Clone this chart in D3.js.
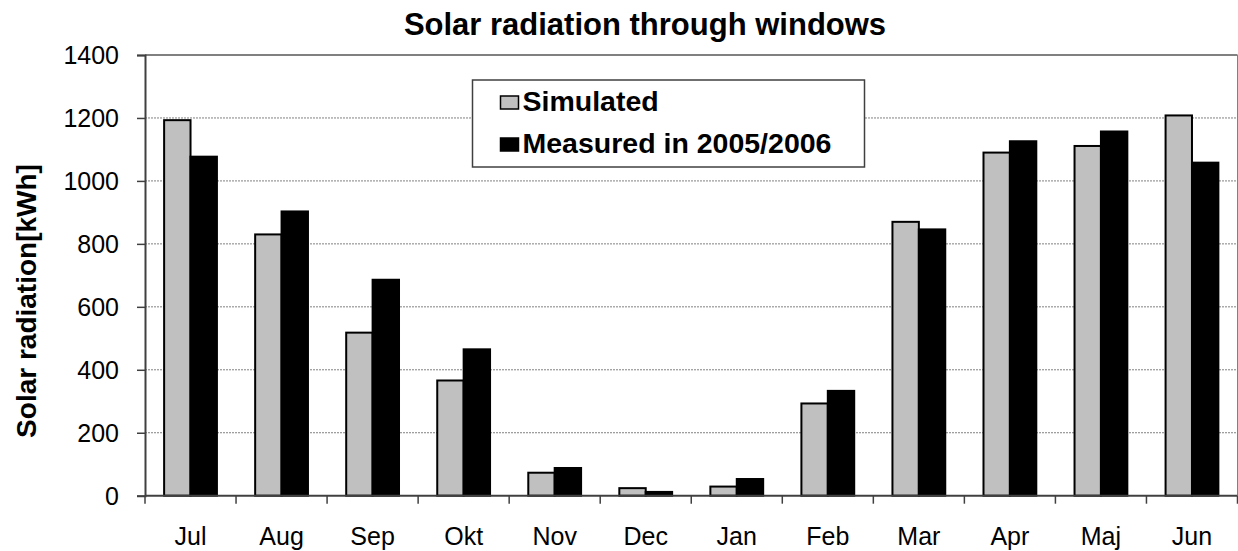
<!DOCTYPE html>
<html>
<head>
<meta charset="utf-8" />
<script src="https://cdn.jsdelivr.net/npm/d3@7"></script>
<title>Solar radiation through windows</title>
<style>
    body { margin: 0; background: #fff; }
    text { font-family: Arial, "Liberation Sans", sans-serif; fill: #000; }
    .grid line { stroke: #808080; stroke-width: 1; stroke-dasharray: 2,1; }
</style>
</head>
<body>
<script>
    var months = ["Jul", "Aug", "Sep", "Okt", "Nov", "Dec", "Jan", "Feb", "Mar", "Apr", "Maj", "Jun"];
    var simulated = [1193, 830, 518, 366, 73, 24, 29, 293, 870, 1090, 1111, 1208];
    var measured = [1077, 903, 686, 465, 88, 12, 53, 333, 846, 1126, 1157, 1058];
    var seriesNames = ["Simulated", "Measured in 2005/2006"];
    var yTicks = [0, 200, 400, 600, 800, 1000, 1200, 1400];

    var svgWidth = 1238,
        svgHeight = 551,
        margin = {top: 55, right: 0.5, bottom: 55, left: 145},
        width = 1237.5 - margin.left,
        height = 495.7 - margin.top;

    var svg = d3.select("body").append("svg")
        .attr("width", svgWidth)
        .attr("height", svgHeight);

    var g = svg.append("g")
        .attr("transform", "translate(" + margin.left + "," + margin.top + ")");

    var x = d3.scaleBand()
        .domain(months)
        .range([0, width])
        .paddingInner(0.42)
        .paddingOuter(0.21);

    var x1 = d3.scaleBand()
        .domain([0, 1])
        .range([0, x.bandwidth()]);

    var y = d3.scaleLinear()
        .domain([0, 1400])
        .range([height, 0]);

    // dotted gridlines
    g.append("g").attr("class", "grid")
        .selectAll("line")
        .data(yTicks.filter(function(d) { return d > 0 && d < 1400; }))
        .enter().append("line")
        .attr("x1", 0).attr("x2", width)
        .attr("y1", function(d) { return y(d); })
        .attr("y2", function(d) { return y(d); });

    // plot border top / right
    g.append("line").attr("x1", 0).attr("x2", width).attr("y1", y(1400)).attr("y2", y(1400))
        .attr("stroke", "#808080").attr("stroke-width", 2);
    g.append("line").attr("x1", width).attr("x2", width).attr("y1", y(1400)).attr("y2", y(0))
        .attr("stroke", "#808080").attr("stroke-width", 1);

    var groups = g.selectAll(".month")
        .data(months)
        .enter().append("g")
        .attr("transform", function(d) { return "translate(" + x(d) + ",0)"; });

    groups.append("rect")
        .attr("x", x1(0))
        .attr("width", x1.bandwidth())
        .attr("y", function(d, i) { return y(simulated[i]); })
        .attr("height", function(d, i) { return y(0) - y(simulated[i]); })
        .attr("fill", "#c0c0c0")
        .attr("stroke", "#000")
        .attr("stroke-width", 2);

    groups.append("rect")
        .attr("x", x1(1))
        .attr("width", x1.bandwidth())
        .attr("y", function(d, i) { return y(measured[i]); })
        .attr("height", function(d, i) { return y(0) - y(measured[i]); })
        .attr("fill", "#000")
        .attr("stroke", "#000")
        .attr("stroke-width", 2);

    // y axis
    var yAxis = g.append("g")
        .call(d3.axisLeft(y).tickValues(yTicks).tickFormat(d3.format("d")).tickSize(8).tickPadding(18));
    yAxis.select(".domain").attr("stroke", "#404040").attr("stroke-width", 2);
    yAxis.selectAll(".tick line").attr("stroke", "#404040").attr("stroke-width", 1.5);
    yAxis.selectAll(".tick text").style("font-size", "25px").attr("dy", "0.35em");

    // x axis: ticks between categories
    var xAxis = g.append("g").attr("transform", "translate(0," + height + ")");
    xAxis.append("line").attr("x1", 0).attr("x2", width)
        .attr("stroke", "#404040").attr("stroke-width", 2);
    var offset = x.step() * x.paddingOuter();
    xAxis.selectAll(".xtick")
        .data(months.concat(["end"]))
        .enter().append("line")
        .attr("x1", function(d, i) { return i < months.length ? x(d) - offset : width; })
        .attr("x2", function(d, i) { return i < months.length ? x(d) - offset : width; })
        .attr("y1", 0).attr("y2", 8)
        .attr("stroke", "#404040").attr("stroke-width", 1.5);
    xAxis.selectAll(".xlabel")
        .data(months)
        .enter().append("text")
        .attr("x", function(d) { return x(d) + x.bandwidth() / 2; })
        .attr("y", 49)
        .attr("text-anchor", "middle")
        .style("font-size", "25px")
        .text(function(d) { return d; });

    // title
    svg.append("text")
        .attr("x", 645)
        .attr("y", 35)
        .attr("text-anchor", "middle")
        .style("font-size", "31px")
        .style("font-weight", "bold")
        .text("Solar radiation through windows");

    // y label
    svg.append("text")
        .attr("transform", "translate(36,301) rotate(-90)")
        .attr("text-anchor", "middle")
        .style("font-size", "28px")
        .style("font-weight", "bold")
        .text("Solar radiation[kWh]");

    // legend
    var legend = svg.append("g").attr("transform", "translate(472.5,80)");
    legend.append("rect")
        .attr("width", 392).attr("height", 87)
        .attr("fill", "#fff").attr("stroke", "#404040").attr("stroke-width", 1.5);
    var legendFill = ["#c0c0c0", "#000"];
    var items = legend.selectAll(".item")
        .data(seriesNames)
        .enter().append("g")
        .attr("transform", function(d, i) { return "translate(0," + (i * 42) + ")"; });
    items.append("rect")
        .attr("x", 28).attr("y", 16)
        .attr("width", 18).attr("height", 13)
        .attr("fill", function(d, i) { return legendFill[i]; })
        .attr("stroke", "#000").attr("stroke-width", 1.5);
    items.append("text")
        .attr("x", 50).attr("y", 31)
        .style("font-size", "28.5px")
        .style("font-weight", "bold")
        .text(function(d) { return d; });
</script>
</body>
</html>
